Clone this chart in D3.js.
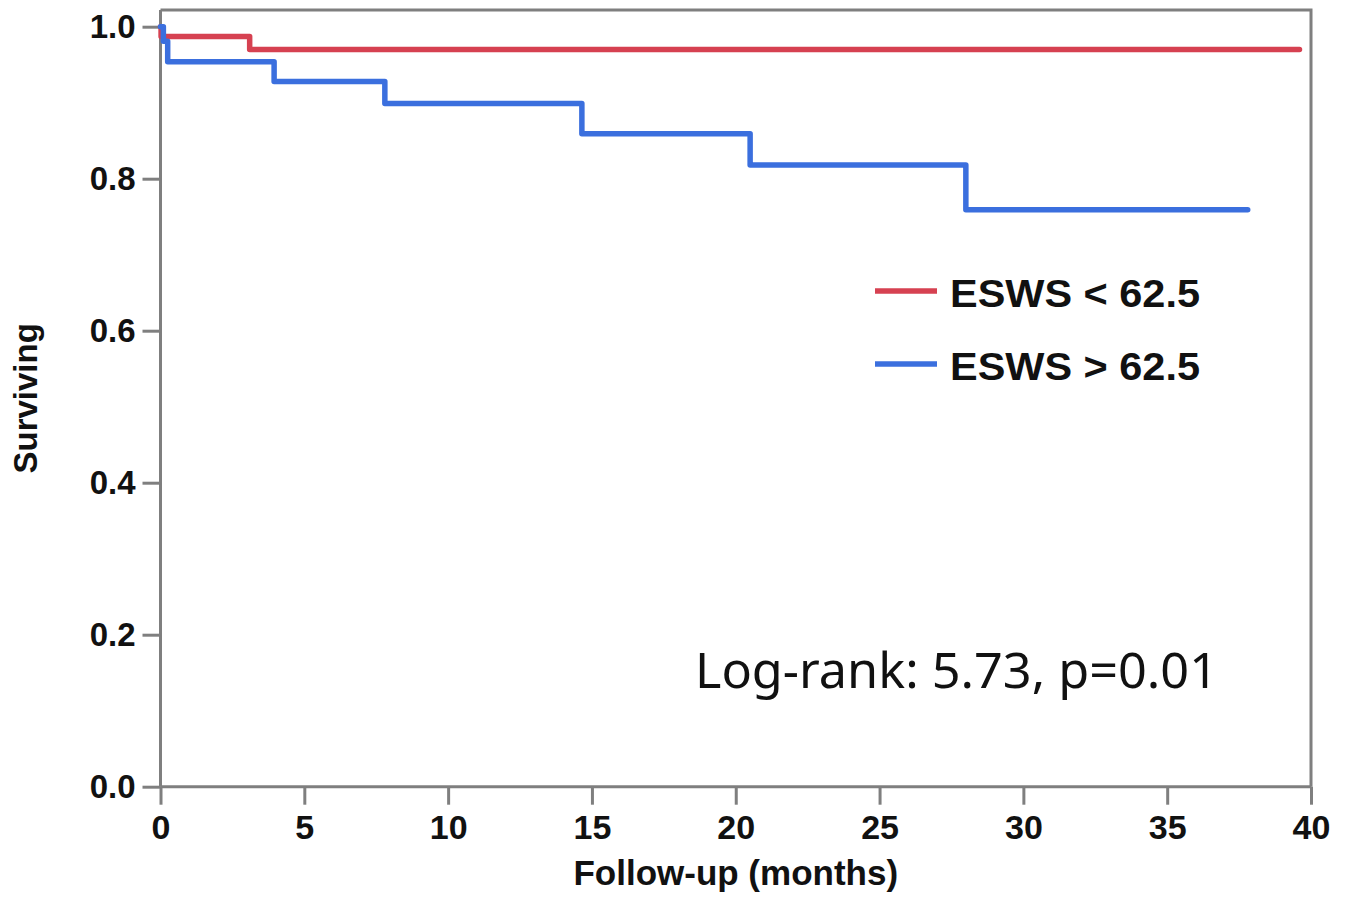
<!DOCTYPE html>
<html>

<head>
    <meta charset="utf-8">
    <script src="https://cdn.jsdelivr.net/npm/d3@7/dist/d3.min.js"></script>
    <style>
        body { margin: 0; background: #fff; }
    </style>
</head>

<body>
    <div id="my_dataviz"></div>
    <script>

        // Kaplan-Meier steps (time in months, survival after the step)
        var lowTimes = [0, 0.02, 3.1];
        var lowSurv = [1.0, 0.987, 0.970];
        var lowEnd = 39.6;

        var highTimes = [0, 0.1, 0.25, 3.95, 7.8, 14.65, 20.5, 28.0];
        var highSurv = [1.0, 0.981, 0.954, 0.928, 0.899, 0.859, 0.818, 0.759];
        var highEnd = 37.8;

        var seriesNames = ["ESWS < 62.5", "ESWS > 62.5"];
        var seriesColors = ["#d64151", "#3b6fde"];

        var xTicks = [0, 5, 10, 15, 20, 25, 30, 35, 40];
        var yTicks = [0.0, 0.2, 0.4, 0.6, 0.8, 1.0];

        var W = 1353, H = 899;
        var plotLeft = 160.5, plotRight = 1311, plotTop = 10, plotBottom = 786.7;

        var svg = d3.select("#my_dataviz")
            .append("svg")
            .attr("width", W)
            .attr("height", H);

        var x = d3.scaleLinear().domain([0, 40]).range([plotLeft, plotRight]);
        var y = d3.scaleLinear().domain([0, 1]).range([plotBottom, 26.7]);

        var axisColor = "#7f7f7f";
        var font = "'Liberation Sans', Arial, sans-serif";

        // frame (top + right)
        svg.append("path")
            .attr("d", "M" + plotLeft + "," + plotTop + "H" + plotRight + "V" + plotBottom)
            .attr("fill", "none")
            .attr("stroke", axisColor)
            .attr("stroke-width", 3);

        // x axis
        var gx = svg.append("g")
            .attr("transform", "translate(0," + plotBottom + ")")
            .call(d3.axisBottom(x).tickValues(xTicks).tickSize(18).tickPadding(10).tickFormat(d3.format("d")));
        gx.select(".domain").attr("stroke", axisColor).attr("stroke-width", 3)
            .attr("d", "M" + plotLeft + ",0H" + plotRight);
        gx.selectAll(".tick line").attr("stroke", axisColor).attr("stroke-width", 3);
        gx.selectAll(".tick text")
            .attr("fill", "#111")
            .style("font-family", font)
            .style("font-weight", "bold")
            .style("font-size", "34px");

        // y axis
        var gy = svg.append("g")
            .attr("transform", "translate(" + plotLeft + ",0)")
            .call(d3.axisLeft(y).tickValues(yTicks).tickSize(18).tickPadding(7).tickFormat(d3.format(".1f")));
        gy.select(".domain").attr("stroke", axisColor).attr("stroke-width", 3)
            .attr("d", "M0," + plotTop + "V" + plotBottom);
        gy.selectAll(".tick line").attr("stroke", axisColor).attr("stroke-width", 3);
        gy.selectAll(".tick text")
            .attr("fill", "#111")
            .style("font-family", font)
            .style("font-weight", "bold")
            .style("font-size", "33px");

        // axis titles
        svg.append("text")
            .attr("x", (plotLeft + plotRight) / 2)
            .attr("y", 885)
            .attr("text-anchor", "middle")
            .attr("fill", "#111")
            .style("font-family", font)
            .style("font-weight", "bold")
            .style("font-size", "35px")
            .text("Follow-up (months)");

        svg.append("text")
            .attr("transform", "translate(37," + (plotTop + plotBottom) / 2 + ") rotate(-90)")
            .attr("text-anchor", "middle")
            .attr("fill", "#111")
            .style("font-family", font)
            .style("font-weight", "bold")
            .style("font-size", "33px")
            .text("Surviving");

        // survival curves
        function steps(times, surv, end) {
            var pts = times.map(function (t, i) { return [t, surv[i]]; });
            pts.push([end, surv[surv.length - 1]]);
            return pts;
        }
        var line = d3.line()
            .x(function (d) { return x(d[0]); })
            .y(function (d) { return y(d[1]); })
            .curve(d3.curveStepAfter);

        var curves = [steps(lowTimes, lowSurv, lowEnd), steps(highTimes, highSurv, highEnd)];
        svg.selectAll(".km")
            .data(curves)
            .enter().append("path")
            .attr("class", "km")
            .attr("d", line)
            .attr("fill", "none")
            .attr("stroke", function (d, i) { return seriesColors[i]; })
            .attr("stroke-width", 5.5)
            .attr("stroke-linejoin", "round")
            .attr("stroke-linecap", "round");

        // legend
        var legend = svg.selectAll(".leg")
            .data(seriesNames)
            .enter().append("g")
            .attr("class", "leg")
            .attr("transform", function (d, i) { return "translate(875," + (291 + i * 73) + ")"; });
        legend.append("line")
            .attr("x1", 0).attr("x2", 62)
            .attr("stroke", function (d, i) { return seriesColors[i]; })
            .attr("stroke-width", 5.5);
        legend.append("text")
            .attr("x", 75)
            .attr("y", 16)
            .attr("fill", "#111")
            .style("font-family", font)
            .style("font-weight", "bold")
            .style("font-size", "38px")
            .attr("textLength", 250)
            .attr("lengthAdjust", "spacingAndGlyphs")
            .text(function (d) { return d; });

        // log-rank annotation
        svg.append("text")
            .attr("x", 695)
            .attr("y", 688)
            .attr("fill", "#111")
            .style("font-family", "'Noto Sans', sans-serif")
            .style("font-size", "49px")
            .attr("textLength", 523)
            .attr("lengthAdjust", "spacingAndGlyphs")
            .text("Log-rank: 5.73, p=0.01");

    </script>
</body>

</html>
